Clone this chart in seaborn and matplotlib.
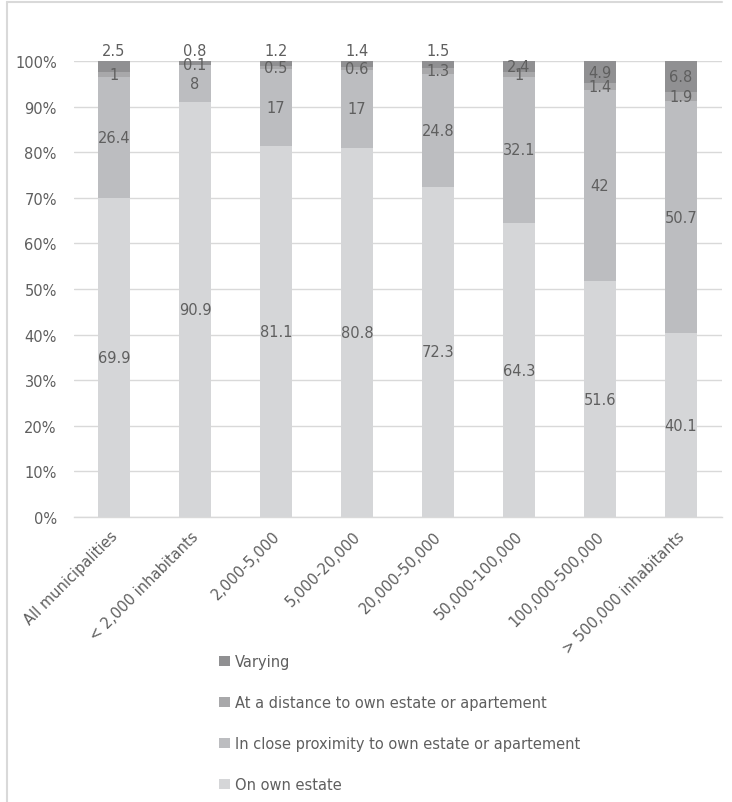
import matplotlib
matplotlib.use("Agg")
import matplotlib.pyplot as plt
import matplotlib.transforms as mtransforms
import seaborn as sns
import pandas as pd
import numpy as np
from matplotlib.patches import Patch
from matplotlib.lines import Line2D

categories = ["All municipalities", "< 2,000 inhabitants", "2,000-5,000", "5,000-20,000",
              "20,000-50,000", "50,000-100,000", "100,000-500,000", "> 500,000 inhabitants"]
on_own_estate = [69.9, 90.9, 81.1, 80.8, 72.3, 64.3, 51.6, 40.1]
close_proximity = [26.4, 8, 17, 17, 24.8, 32.1, 42, 50.7]
at_distance = [1, 0.1, 0.5, 0.6, 1.3, 1, 1.4, 1.9]
varying = [2.5, 0.8, 1.2, 1.4, 1.5, 2.4, 4.9, 6.8]
series_names = ["On own estate", "In close proximity to own estate or apartement",
                "At a distance to own estate or apartement", "Varying"]
yticks = [0, 10, 20, 30, 40, 50, 60, 70, 80, 90, 100]
ytick_labels = [f"{t}%" for t in yticks]
varying_label_above = [True, True, True, True, True, False, False, False]

colors = ["#d5d6d8", "#bcbdc0", "#a8a8aa", "#909092"]
text_color = "#5f5f5f"

sns.set_theme(style="white")
plt.rcParams["font.family"] = ["DejaVu Sans"]

series_values = [on_own_estate, close_proximity, at_distance, varying]
raw = np.array(series_values, dtype=float)
totals = raw.sum(axis=0)
pct = raw / totals * 100

fig = plt.figure(figsize=(7.32, 8.03), dpi=100)
ax = fig.add_axes([73.5 / 732, 1 - 518 / 803, 648 / 732, 456 / 803])

bottom = np.zeros(len(categories))
for i, name in enumerate(series_names):
    df = pd.DataFrame({"cat": categories, "val": pct[i] + bottom})
    sns.barplot(data=df, x="cat", y="val", color=colors[i], width=0.4,
                ax=ax, zorder=10 - i, saturation=1, edgecolor="none")
    bottom = bottom + pct[i]

# data labels
bottom = np.zeros(len(categories))
for i in range(len(series_names)):
    for j in range(len(categories)):
        val = raw[i, j]
        y = bottom[j] + pct[i, j] / 2
        if i == 3 and varying_label_above[j]:
            y = 102.2
        lab = f"{val:g}"
        ax.text(j, y, lab, ha="center", va="center", fontsize=10.5,
                color=text_color, zorder=20)
    bottom = bottom + pct[i]

ax.set_ylim(0, 100)
ax.set_xlim(-0.5, len(categories) - 0.5)
ax.set_yticks(yticks)
ax.set_yticklabels(ytick_labels, color=text_color, fontsize=10.5)
ax.set_xticks(range(len(categories)))
ax.set_xticklabels(categories, rotation=45, ha="right", rotation_mode="anchor",
                   color=text_color, fontsize=10.5)
ax.tick_params(axis="y", length=0, pad=12)
ax.tick_params(axis="x", length=0, pad=8)
offset = mtransforms.ScaledTranslation(-4 / 100, 0, fig.dpi_scale_trans)
for lbl in ax.get_xticklabels():
    lbl.set_transform(lbl.get_transform() + offset)
ax.set_xlabel("")
ax.set_ylabel("")
ax.yaxis.grid(True, color="#d9d9d9", linewidth=1)
ax.set_axisbelow(True)
for s in ["top", "right", "left"]:
    ax.spines[s].set_visible(False)
ax.spines["bottom"].set_color("#d9d9d9")
ax.spines["bottom"].set_linewidth(1)
ax.spines["bottom"].set_zorder(15)

handles = [Patch(facecolor=colors[i], edgecolor="none", label=series_names[i]) for i in range(3, -1, -1)]
fig.legend(handles=handles, loc="upper left", bbox_to_anchor=(212 / 732, 1 - 648 / 803),
           frameon=False, fontsize=10.5, labelcolor=text_color, handlelength=0.7,
           handleheight=0.7, handletextpad=0.35, labelspacing=1.78, borderpad=0)

fig.add_artist(Line2D([6.5 / 732, 6.5 / 732], [0, 1 - 3 / 803], color="#d9d9d9", lw=1.5,
                      transform=fig.transFigure))
fig.add_artist(Line2D([6.5 / 732, 722 / 732], [1 - 3 / 803, 1 - 3 / 803], color="#d9d9d9", lw=1.5,
                      transform=fig.transFigure))

fig.savefig("out.png", dpi=100)
